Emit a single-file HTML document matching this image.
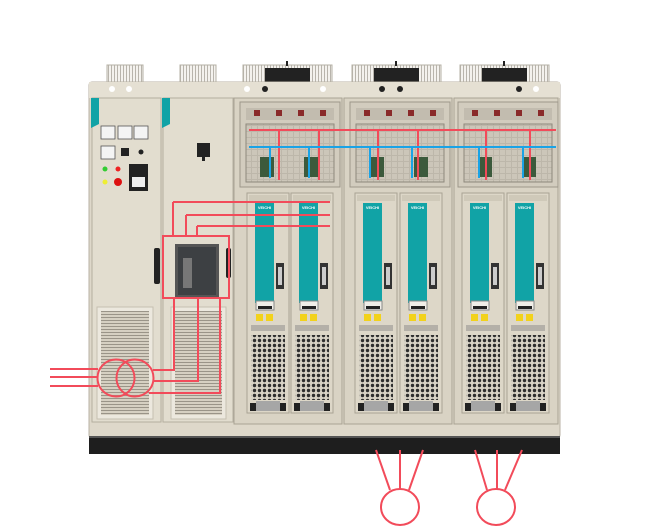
<!DOCTYPE html>
<html><head><meta charset="utf-8"><style>
html,body{margin:0;padding:0;background:#fff;width:650px;height:526px;overflow:hidden}
svg{display:block}
</style></head><body>
<svg width="650" height="526" viewBox="0 0 650 526" xmlns="http://www.w3.org/2000/svg" font-family="Liberation Sans, sans-serif">
<defs>
<pattern id="dots" width="5" height="5" patternUnits="userSpaceOnUse"><rect width="5" height="5" fill="#d8d3c6"/><circle cx="2.5" cy="2.5" r="1.7" fill="#2e2e2e"/></pattern>
<pattern id="louv" width="4" height="3" patternUnits="userSpaceOnUse"><rect width="4" height="3" fill="#d6d0c2"/><rect y="2" width="4" height="1" fill="#9a9488"/></pattern>
<pattern id="vent" width="3" height="4" patternUnits="userSpaceOnUse"><rect width="3" height="4" fill="#f4f2ee"/><rect width="1" height="4" fill="#b8b4ac"/></pattern>
<pattern id="mesh" width="6" height="6" patternUnits="userSpaceOnUse"><rect width="6" height="6" fill="#bdb7aa"/><rect width="5" height="5" fill="#ccc6b9"/></pattern>
<g id="fan"><rect x="0" y="0" width="89" height="18" fill="url(#vent)" stroke="#b5b0a5"/><rect x="22" y="3" width="45" height="15" fill="#222"/><rect x="43" y="-4" width="2" height="5" fill="#222"/></g>
<g id="mod">
<rect x="0" y="0" width="42" height="220" fill="#ddd7c8" stroke="#a9a394"/>
<rect x="2" y="2" width="38" height="6" fill="#cfc9b9"/>
<rect x="8" y="10" width="19" height="100" fill="#11a3a6"/>
<text x="17.5" y="16" font-size="4" fill="#fff" text-anchor="middle" font-weight="bold">VEICHI</text>
<rect x="29" y="70" width="8" height="26" fill="#333"/><rect x="31" y="74" width="4" height="18" fill="#ccc"/>
<rect x="9" y="108" width="18" height="9" fill="#f0eee8" stroke="#888"/><rect x="11" y="113" width="14" height="3" fill="#222"/>
<rect x="9" y="121" width="7" height="7" fill="#f2d21b"/><rect x="19" y="121" width="7" height="7" fill="#f2d21b"/>
<rect x="4" y="132" width="34" height="6" fill="#b4b0a8"/>
<rect x="4" y="142" width="34" height="65" fill="url(#dots)"/>
<rect x="9" y="208" width="24" height="10" fill="#a6a6a6"/>
<rect x="3" y="210" width="6" height="8" fill="#222"/><rect x="33" y="210" width="6" height="8" fill="#222"/>
</g>
<g id="upper">
<rect x="0" y="0" width="100" height="85" fill="#d2ccbe" stroke="#9d978a"/>
<rect x="6" y="22" width="88" height="58" fill="url(#mesh)" stroke="#8d887c"/>
<rect x="6" y="6" width="88" height="12" fill="#c2bcaf"/>
<rect x="14" y="8" width="6" height="6" fill="#8a2a2a"/><rect x="36" y="8" width="6" height="6" fill="#8a2a2a"/><rect x="58" y="8" width="6" height="6" fill="#8a2a2a"/><rect x="80" y="8" width="6" height="6" fill="#8a2a2a"/>
<rect x="20" y="55" width="14" height="20" fill="#3c5a3c"/><rect x="64" y="55" width="14" height="20" fill="#3c5a3c"/>
</g>
</defs>

<rect x="107" y="65" width="36" height="17" fill="url(#vent)" stroke="#b5b0a5"/>
<rect x="180" y="65" width="36" height="17" fill="url(#vent)" stroke="#b5b0a5"/>
<use href="#fan" x="243" y="65"/>
<use href="#fan" x="352" y="65"/>
<use href="#fan" x="460" y="65"/>

<rect x="89" y="82" width="471" height="356" rx="3" fill="#ded8ca" stroke="#b8b2a4"/>
<rect x="89" y="82" width="471" height="16" fill="#e5e0d3"/>
<circle cx="112" cy="89" r="3" fill="#fff"/><circle cx="129" cy="89" r="3" fill="#fff"/>
<circle cx="247" cy="89" r="3" fill="#fff"/><circle cx="265" cy="89" r="3" fill="#222"/><circle cx="323" cy="89" r="3" fill="#fff"/>
<circle cx="382" cy="89" r="3" fill="#222"/><circle cx="400" cy="89" r="3" fill="#222"/>
<circle cx="519" cy="89" r="3" fill="#222"/><circle cx="536" cy="89" r="3" fill="#fff"/>

<rect x="92" y="98" width="69" height="324" fill="#e2ddcf" stroke="#b4ae9f"/>
<polygon points="91,98 99,98 99,124 91,128" fill="#11a3a6"/>
<g fill="#f4f4f4" stroke="#555" stroke-width="0.8">
<rect x="101" y="126" width="14" height="13"/><rect x="118" y="126" width="14" height="13"/><rect x="134" y="126" width="14" height="13"/><rect x="101" y="146" width="14" height="13"/></g>
<rect x="121" y="148" width="8" height="8" fill="#222"/><circle cx="141" cy="152" r="2.5" fill="#222"/>
<circle cx="105" cy="169" r="2.5" fill="#3c3"/><circle cx="118" cy="169" r="2.5" fill="#e22"/><circle cx="105" cy="182" r="2.5" fill="#ee3"/><circle cx="118" cy="182" r="4" fill="#d11"/>
<rect x="129" y="164" width="19" height="27" fill="#222"/><rect x="132" y="177" width="13" height="10" fill="#eee"/>
<rect x="154" y="248" width="6" height="36" rx="2" fill="#222"/>
<rect x="97" y="307" width="56" height="112" fill="#ece8de" stroke="#c5bfb0"/>
<rect x="101" y="311" width="48" height="104" fill="url(#louv)"/>

<rect x="163" y="98" width="70" height="324" fill="#e2ddcf" stroke="#b4ae9f"/>
<polygon points="162,98 170,98 170,124 162,128" fill="#11a3a6"/>
<rect x="197" y="143" width="13" height="14" fill="#222"/><rect x="202" y="157" width="3" height="4" fill="#222"/>
<rect x="175" y="244" width="44" height="54" fill="#555"/><rect x="178" y="247" width="38" height="48" fill="#3d4043"/>
<rect x="183" y="258" width="9" height="30" fill="#777"/>
<rect x="226" y="248" width="5" height="30" rx="2" fill="#222"/>
<rect x="171" y="307" width="55" height="112" fill="#ece8de" stroke="#c5bfb0"/>
<rect x="175" y="311" width="47" height="104" fill="url(#louv)"/>

<g>
<rect x="234" y="98" width="108" height="326" fill="#d9d3c4" stroke="#a9a394"/>
<rect x="344" y="98" width="108" height="326" fill="#d9d3c4" stroke="#a9a394"/>
<rect x="454" y="98" width="104" height="326" fill="#d9d3c4" stroke="#a9a394"/>
<use href="#upper" x="240" y="102"/>
<use href="#upper" x="350" y="102"/>
<use href="#upper" x="458" y="102"/>
<use href="#mod" x="247" y="193"/>
<use href="#mod" x="291" y="193"/>
<use href="#mod" x="355" y="193"/>
<use href="#mod" x="400" y="193"/>
<use href="#mod" x="462" y="193"/>
<use href="#mod" x="507" y="193"/>
</g>
<g stroke="#f24b5a" stroke-width="2" fill="none">
<line x1="249" y1="130" x2="556" y2="130"/>
<line x1="279" y1="130" x2="279" y2="180"/><line x1="319" y1="130" x2="319" y2="180"/>
<line x1="378" y1="130" x2="378" y2="180"/><line x1="418" y1="130" x2="418" y2="180"/>
<line x1="486" y1="130" x2="486" y2="180"/><line x1="530" y1="130" x2="530" y2="180"/>
</g>
<g stroke="#1aa3e6" stroke-width="2" fill="none">
<line x1="249" y1="147" x2="556" y2="147"/>
<line x1="270" y1="147" x2="270" y2="178"/><line x1="309" y1="147" x2="309" y2="178"/>
<line x1="370" y1="147" x2="370" y2="178"/><line x1="412" y1="147" x2="412" y2="178"/>
<line x1="479" y1="147" x2="479" y2="178"/><line x1="523" y1="147" x2="523" y2="178"/>
</g>

<rect x="89" y="436" width="471" height="18" fill="#1e1e1e"/>
<rect x="89" y="436" width="471" height="2" fill="#555"/>

<g stroke="#f24b5a" stroke-width="2" fill="none">
<line x1="173" y1="202" x2="330" y2="202"/>
<line x1="186" y1="215" x2="330" y2="215"/>
<line x1="197" y1="226" x2="330" y2="226"/>
<line x1="173" y1="202" x2="173" y2="236"/><line x1="186" y1="215" x2="186" y2="236"/><line x1="197" y1="226" x2="197" y2="236"/>
<rect x="163" y="236" width="66" height="62"/>
<polyline points="174,298 174,370 153,370"/>
<polyline points="198,298 198,381 154,381"/>
<polyline points="220,298 220,393 149,393"/>
<circle cx="116" cy="378" r="18.5"/><circle cx="135" cy="378" r="18.5"/>
<line x1="50" y1="369" x2="98" y2="369"/><line x1="50" y1="377" x2="97" y2="377"/><line x1="50" y1="386" x2="98" y2="386"/>
<line x1="376" y1="450" x2="390" y2="490"/><line x1="400" y1="450" x2="400" y2="489"/><line x1="423" y1="450" x2="409" y2="490"/>
<ellipse cx="400" cy="507" rx="19" ry="18"/>
<line x1="475" y1="450" x2="487" y2="490"/><line x1="497" y1="450" x2="497" y2="489"/><line x1="522" y1="450" x2="505" y2="490"/>
<ellipse cx="496" cy="507" rx="19" ry="18"/>
</g>
</svg>
</body></html>
